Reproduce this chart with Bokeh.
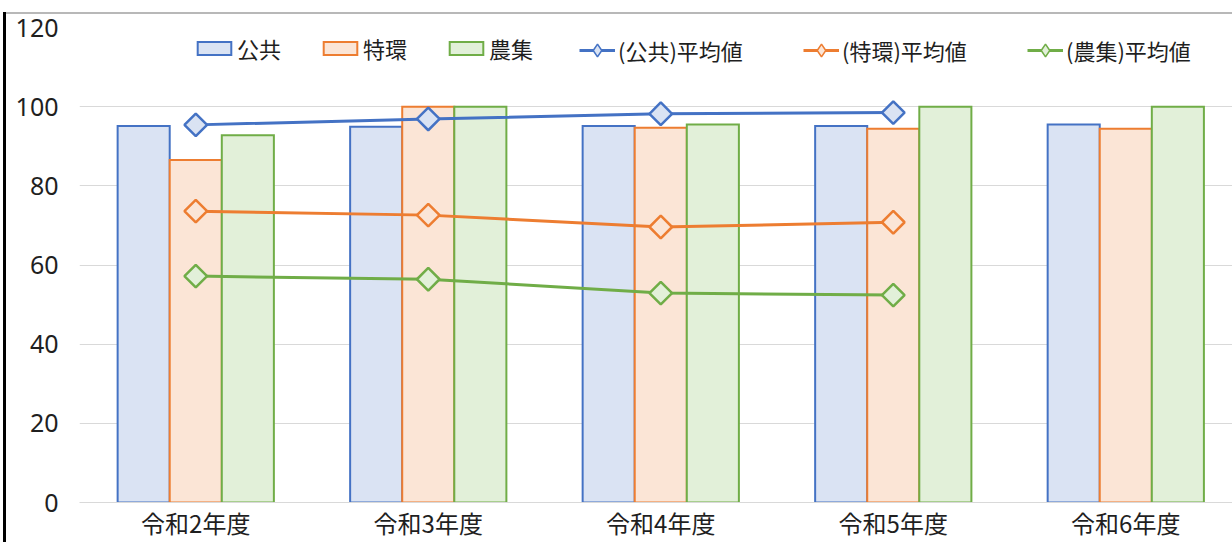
import math
from bokeh.plotting import figure
from bokeh.models import ColumnDataSource, FixedTicker, Range1d, Legend, LegendItem
from bokeh.transform import dodge
from bokeh.embed import file_html
from bokeh.resources import INLINE

# ---- data ----
categories = ["令和2年度", "令和3年度", "令和4年度", "令和5年度", "令和6年度"]
x_index = [0, 1, 2, 3, 4]
kokyo = [95.1, 94.9, 95.1, 95.1, 95.5]
tokkan = [86.5, 100.0, 94.7, 94.4, 94.4]
noshu = [92.8, 100.0, 95.5, 100.0, 100.0]

avg_x_index = [0, 1, 2, 3]
avg_kokyo = [95.4, 96.9, 98.2, 98.5]
avg_tokkan = [73.6, 72.6, 69.6, 70.8]
avg_noshu = [57.2, 56.4, 52.9, 52.4]

y_ticks = [0, 20, 40, 60, 80, 100, 120]

bar_names = ["公共", "特環", "農集"]
avg_names = ["(公共)平均値", "(特環)平均値", "(農集)平均値"]

# ---- style ----
FONT = "Noto Sans CJK JP"
TEXT = "#1f1f1f"
LINE_COLORS = ["#4472C4", "#ED7D31", "#70AD47"]
FILL_COLORS = ["#DAE3F3", "#FBE5D6", "#E2F0D9"]
BAR_W = 0.224

src = ColumnDataSource(dict(x=x_index, kokyo=kokyo, tokkan=tokkan, noshu=noshu))
avg_src = ColumnDataSource(dict(x=avg_x_index, kokyo=avg_kokyo, tokkan=avg_tokkan, noshu=avg_noshu))

p = figure(width=1232, height=542, output_backend="svg", toolbar_location=None,
           x_range=Range1d(-0.5, 4.459), y_range=Range1d(0, 120),
           min_border_left=79, min_border_right=0, min_border_top=27, min_border_bottom=40)
p.outline_line_color = None
p.background_fill_color = "white"
p.border_fill_alpha = 0
# window frame edges that appear in the reference screenshot
p.styles = {
    "background-color": "white",
    "background-image": "linear-gradient(#000000, #000000), linear-gradient(#b8b8b8, #b8b8b8)",
    "background-size": "3px 530px, 1226px 2px",
    "background-position": "3px 12px, 6px 12px",
    "background-repeat": "no-repeat",
}

fields = ["kokyo", "tokkan", "noshu"]
offsets = [-BAR_W, 0.0, BAR_W]
bar_items = []
for f, off, lc, fc, name in zip(fields, offsets, LINE_COLORS, FILL_COLORS, bar_names):
    r = p.vbar(x=dodge("x", off, range=p.x_range), top=f, width=BAR_W, bottom=0, source=src,
               fill_color=fc, line_color=lc, line_width=2, line_join="miter")
    bar_items.append(LegendItem(label=name, renderers=[r]))

line_items = []
for f, lc, fc, name in zip(fields, LINE_COLORS, FILL_COLORS, avg_names):
    lr = p.line(x="x", y=f, source=avg_src, line_color=lc, line_width=3)
    # diamond used for the legend key (fully covered by the rotated squares below)
    mr = p.scatter(x="x", y=f, source=avg_src, marker="diamond", size=12,
                   fill_color=fc, line_color=lc, line_width=1.5)
    p.scatter(x="x", y=f, source=avg_src, marker="square", size=16, angle=math.pi / 4,
              fill_color=fc, line_color=lc, line_width=2.5)
    line_items.append(LegendItem(label=name, renderers=[lr, mr]))

# axes
p.xgrid.visible = False
p.ygrid.grid_line_color = "#D9D9D9"
p.ygrid.grid_line_width = 1

p.yaxis.ticker = FixedTicker(ticks=y_ticks)
p.yaxis.axis_line_color = None
p.yaxis.major_tick_line_color = None
p.yaxis.minor_tick_line_color = None
p.yaxis.major_tick_out = 0
p.yaxis.minor_tick_out = 0
p.yaxis.major_label_text_font = "Noto Sans"
p.yaxis.major_label_text_font_size = "25px"
p.yaxis.major_label_text_color = TEXT
p.yaxis.major_label_standoff = 21

p.xaxis.ticker = FixedTicker(ticks=x_index)
p.xaxis.major_label_overrides = {i: c for i, c in zip(x_index, categories)}
p.xaxis.axis_line_color = "#D9D9D9"
p.xaxis.axis_line_width = 1
p.xaxis.major_tick_line_color = None
p.xaxis.minor_tick_line_color = None
p.xaxis.major_tick_out = 0
p.xaxis.minor_tick_out = 0
p.xaxis.major_label_text_font = FONT
p.xaxis.major_label_text_font_size = "24px"
p.xaxis.major_label_text_color = TEXT
p.xaxis.major_label_standoff = 2


def style_legend(lg):
    lg.orientation = "horizontal"
    lg.padding = 0
    lg.margin = 0
    lg.border_line_color = None
    lg.background_fill_alpha = 0
    lg.label_text_font = FONT
    lg.label_text_font_size = "22px"
    lg.label_text_color = TEXT


lg1 = Legend(items=bar_items, location=(114, 438))
style_legend(lg1)
lg1.glyph_width = 42
lg1.glyph_height = 16
lg1.label_height = 16
lg1.label_standoff = 2
lg1.label_width = 44
lg1.spacing = 38
p.add_layout(lg1)

lg2 = Legend(items=line_items, location=(500, 436))
style_legend(lg2)
lg2.glyph_width = 36
lg2.glyph_height = 32
lg2.label_height = 32
lg2.label_standoff = 3
lg2.label_width = 139
lg2.spacing = 46
p.add_layout(lg2)

open("out.html", "w").write(file_html(p, INLINE))
